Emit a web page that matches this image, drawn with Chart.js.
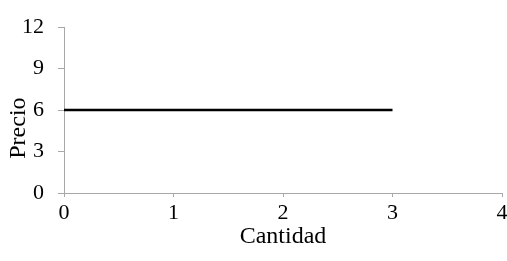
<!DOCTYPE html>
<html>
<head>
<meta charset="utf-8">
<script src="https://cdn.jsdelivr.net/npm/chart.js@4"></script>
<style>
  html, body { margin: 0; padding: 0; background: #fff; }
  #wrap { width: 507px; height: 261px; }
</style>
</head>
<body>
<div id="wrap"><canvas id="chart" width="507" height="261"></canvas></div>
<script>
// Data
const cantidad = [0, 3];
const precio = [6, 6];
const xTicks = [0, 1, 2, 3, 4];
const yTicks = [0, 3, 6, 9, 12];

const serif = "'Liberation Serif', 'DejaVu Serif', serif";
const axisGray = "#a8a8a8";

const points = cantidad.map((x, i) => ({ x: x, y: precio[i] }));

new Chart(document.getElementById("chart").getContext("2d"), {
  type: "line",
  data: {
    datasets: [
      {
        label: "Precio",
        data: points,
        borderColor: "#000",
        borderWidth: 2.5,
        pointRadius: 0,
        fill: false,
        tension: 0,
      },
    ],
  },
  options: {
    responsive: false,
    animation: false,
    layout: { padding: { top: 22, right: 0, left: 0, bottom: 0 } },
    plugins: { legend: { display: false }, tooltip: { enabled: false } },
    scales: {
      x: {
        type: "linear",
        min: 0,
        max: 4,
        afterBuildTicks: (scale) => {
          scale.ticks = xTicks.map((v) => ({ value: v }));
        },
        afterFit: (scale) => {
          scale.height = 68;
          // let the last label hang close to the edge, like the original
          scale.paddingRight = 5;
          scale.paddingLeft = 0;
        },
        border: { color: axisGray, width: 1 },
        grid: { drawOnChartArea: false, drawTicks: true, tickLength: 4, color: axisGray },
        ticks: { color: "#000", font: { family: serif, size: 22 }, padding: 3, maxRotation: 0 },
        title: {
          display: true,
          text: "Cantidad",
          color: "#000",
          font: { family: serif, size: 24 },
          padding: { top: 0, bottom: 10 },
        },
      },
      y: {
        type: "linear",
        min: 0,
        max: 12,
        afterBuildTicks: (scale) => {
          scale.ticks = yTicks.map((v) => ({ value: v }));
        },
        afterFit: (scale) => {
          scale.width = 64;
        },
        border: { color: axisGray, width: 1 },
        grid: { drawOnChartArea: false, drawTicks: true, tickLength: 6, color: axisGray },
        ticks: { color: "#000", font: { family: serif, size: 22 }, padding: 14 },
        title: {
          display: true,
          // trailing spaces push the rotated title a little lower, as in the original
          text: "Precio      ",
          color: "#000",
          font: { family: serif, size: 24 },
          padding: { top: 4, bottom: 0 },
        },
      },
    },
  },
});
</script>
</body>
</html>
